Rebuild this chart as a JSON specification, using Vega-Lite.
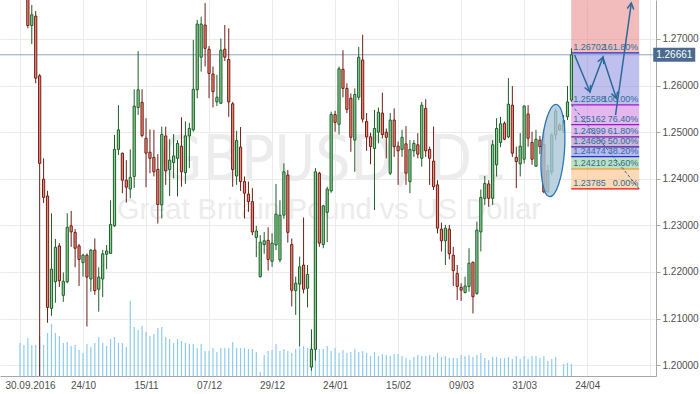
{
"$schema": "https://vega.github.io/schema/vega-lite/v6.json",
"width": 656, "height": 376,
"autosize": {"type": "none"},
"padding": {"left": 0, "top": 0, "right": 44, "bottom": 18},
"background": "white",
"config": {
  "view": {"stroke": null},
  "axis": {"gridColor": "#ebebeb", "gridWidth": 1, "domainColor": "#a6a6a6", "tickColor": "#a6a6a6", "labelColor": "#4f4f4f", "labelFont": "Liberation Sans", "labelFontSize": 10, "title": null}
},
"datasets": {
  "candles": [
{"i":0,"o":1.2960,"h":1.3010,"l":1.2925,"c":1.2975,"v":33},
{"i":1,"o":1.2965,"h":1.2975,"l":1.2870,"c":1.2880,"v":31},
{"i":2,"o":1.2870,"h":1.2880,"l":1.2723,"c":1.2729,"v":38},
{"i":3,"o":1.2729,"h":1.2773,"l":1.2689,"c":1.2752,"v":31},
{"i":4,"o":1.2749,"h":1.2760,"l":1.2605,"c":1.2616,"v":31},
{"i":5,"o":1.2621,"h":1.2625,"l":1.1841,"c":1.2433,"v":40},
{"i":6,"o":1.2399,"h":1.2444,"l":1.2348,"c":1.2360,"v":31},
{"i":7,"o":1.2363,"h":1.2374,"l":1.2091,"c":1.2124,"v":43},
{"i":8,"o":1.2122,"h":1.2326,"l":1.2106,"c":1.2206,"v":52},
{"i":9,"o":1.2179,"h":1.2271,"l":1.2134,"c":1.2253,"v":43},
{"i":10,"o":1.2256,"h":1.2262,"l":1.2168,"c":1.2181,"v":40},
{"i":11,"o":1.2150,"h":1.2199,"l":1.2136,"c":1.2180,"v":33},
{"i":12,"o":1.2179,"h":1.2326,"l":1.2176,"c":1.2296,"v":34},
{"i":13,"o":1.2299,"h":1.2331,"l":1.2254,"c":1.2286,"v":30},
{"i":14,"o":1.2285,"h":1.2292,"l":1.2210,"c":1.2251,"v":31},
{"i":15,"o":1.2256,"h":1.2260,"l":1.2170,"c":1.2227,"v":26},
{"i":16,"o":1.2220,"h":1.2239,"l":1.2190,"c":1.2236,"v":23},
{"i":17,"o":1.2236,"h":1.2240,"l":1.2083,"c":1.2189,"v":32},
{"i":18,"o":1.2185,"h":1.2249,"l":1.2158,"c":1.2247,"v":29},
{"i":19,"o":1.2247,"h":1.2272,"l":1.2151,"c":1.2160,"v":33},
{"i":20,"o":1.2163,"h":1.2210,"l":1.2115,"c":1.2189,"v":39},
{"i":21,"o":1.2185,"h":1.2247,"l":1.2146,"c":1.2239,"v":33},
{"i":22,"o":1.2238,"h":1.2258,"l":1.2206,"c":1.2245,"v":30},
{"i":23,"o":1.2240,"h":1.2354,"l":1.2239,"c":1.2302,"v":37},
{"i":24,"o":1.2299,"h":1.2494,"l":1.2297,"c":1.2463,"v":39},
{"i":25,"o":1.2463,"h":1.2558,"l":1.2451,"c":1.2505,"v":33},
{"i":26,"o":1.2455,"h":1.2456,"l":1.2369,"c":1.2397,"v":33},
{"i":27,"o":1.2397,"h":1.2440,"l":1.2349,"c":1.2382,"v":29},
{"i":28,"o":1.2378,"h":1.2463,"l":1.2358,"c":1.2403,"v":75},
{"i":29,"o":1.2405,"h":1.2592,"l":1.2380,"c":1.2556,"v":49},
{"i":30,"o":1.2553,"h":1.2674,"l":1.2537,"c":1.2591,"v":46},
{"i":31,"o":1.2564,"h":1.2592,"l":1.2489,"c":1.2493,"v":50},
{"i":32,"o":1.2487,"h":1.2530,"l":1.2382,"c":1.2455,"v":44},
{"i":33,"o":1.2457,"h":1.2506,"l":1.2412,"c":1.2444,"v":40},
{"i":34,"o":1.2446,"h":1.2505,"l":1.2405,"c":1.2415,"v":42},
{"i":35,"o":1.2420,"h":1.2453,"l":1.2304,"c":1.2345,"v":48},
{"i":36,"o":1.2344,"h":1.2512,"l":1.2315,"c":1.2495,"v":49},
{"i":37,"o":1.2492,"h":1.2512,"l":1.2387,"c":1.2417,"v":39},
{"i":38,"o":1.2420,"h":1.2485,"l":1.2363,"c":1.2440,"v":37},
{"i":39,"o":1.2435,"h":1.2496,"l":1.2401,"c":1.2449,"v":33},
{"i":40,"o":1.2444,"h":1.2483,"l":1.2362,"c":1.2476,"v":37},
{"i":41,"o":1.2470,"h":1.2532,"l":1.2383,"c":1.2415,"v":35},
{"i":42,"o":1.2413,"h":1.2523,"l":1.2389,"c":1.2492,"v":33},
{"i":43,"o":1.2492,"h":1.2520,"l":1.2423,"c":1.2508,"v":32},
{"i":44,"o":1.2505,"h":1.2698,"l":1.2501,"c":1.2592,"v":32},
{"i":45,"o":1.2591,"h":1.2741,"l":1.2573,"c":1.2732,"v":28},
{"i":46,"o":1.2661,"h":1.2748,"l":1.2630,"c":1.2732,"v":32},
{"i":47,"o":1.2730,"h":1.2777,"l":1.2641,"c":1.2680,"v":25},
{"i":48,"o":1.2678,"h":1.2685,"l":1.2573,"c":1.2626,"v":25},
{"i":49,"o":1.2625,"h":1.2641,"l":1.2553,"c":1.2587,"v":28},
{"i":50,"o":1.2565,"h":1.2623,"l":1.2556,"c":1.2575,"v":24},
{"i":51,"o":1.2562,"h":1.2701,"l":1.2561,"c":1.2676,"v":28},
{"i":52,"o":1.2678,"h":1.2730,"l":1.2653,"c":1.2661,"v":28},
{"i":53,"o":1.2656,"h":1.2723,"l":1.2533,"c":1.2565,"v":28},
{"i":54,"o":1.2561,"h":1.2565,"l":1.2383,"c":1.2420,"v":34},
{"i":55,"o":1.2406,"h":1.2503,"l":1.2387,"c":1.2482,"v":28},
{"i":56,"o":1.2468,"h":1.2511,"l":1.2374,"c":1.2394,"v":28},
{"i":57,"o":1.2394,"h":1.2405,"l":1.2315,"c":1.2369,"v":28},
{"i":58,"o":1.2367,"h":1.2394,"l":1.2329,"c":1.2351,"v":27},
{"i":59,"o":1.2351,"h":1.2380,"l":1.2279,"c":1.2286,"v":27},
{"i":60,"o":1.2274,"h":1.2299,"l":1.2232,"c":1.2288,"v":24},
{"i":61,"o":1.2190,"h":1.2279,"l":1.2188,"c":1.2264,"v":4},
{"i":62,"o":1.2259,"h":1.2286,"l":1.2239,"c":1.2267,"v":21},
{"i":63,"o":1.2268,"h":1.2296,"l":1.2203,"c":1.2227,"v":25},
{"i":64,"o":1.2223,"h":1.2283,"l":1.2211,"c":1.2262,"v":26},
{"i":65,"o":1.2258,"h":1.2389,"l":1.2247,"c":1.2324,"v":32},
{"i":66,"o":1.2226,"h":1.2354,"l":1.2221,"c":1.2322,"v":25},
{"i":67,"o":1.2322,"h":1.2433,"l":1.2314,"c":1.2415,"v":27},
{"i":68,"o":1.2408,"h":1.2419,"l":1.2263,"c":1.2285,"v":25},
{"i":69,"o":1.2259,"h":1.2272,"l":1.2126,"c":1.2161,"v":23},
{"i":70,"o":1.2160,"h":1.2190,"l":1.2108,"c":1.2176,"v":27},
{"i":71,"o":1.2174,"h":1.2233,"l":1.2040,"c":1.2211,"v":28},
{"i":72,"o":1.2215,"h":1.2317,"l":1.2154,"c":1.2163,"v":30},
{"i":73,"o":1.2165,"h":1.2215,"l":1.2124,"c":1.2195,"v":28},
{"i":74,"o":1.1996,"h":1.2077,"l":1.1988,"c":1.2034,"v":32},
{"i":75,"o":1.2034,"h":1.2423,"l":1.2010,"c":1.2415,"v":36},
{"i":76,"o":1.2412,"h":1.2415,"l":1.2254,"c":1.2262,"v":27},
{"i":77,"o":1.2259,"h":1.2344,"l":1.2251,"c":1.2342,"v":27},
{"i":78,"o":1.2328,"h":1.2383,"l":1.2264,"c":1.2378,"v":30},
{"i":79,"o":1.2374,"h":1.2544,"l":1.2370,"c":1.2538,"v":25},
{"i":80,"o":1.2538,"h":1.2546,"l":1.2501,"c":1.2521,"v":28},
{"i":81,"o":1.2517,"h":1.2641,"l":1.2495,"c":1.2636,"v":23},
{"i":82,"o":1.2635,"h":1.2676,"l":1.2575,"c":1.2594,"v":26},
{"i":83,"o":1.2594,"h":1.2605,"l":1.2541,"c":1.2549,"v":23},
{"i":84,"o":1.2573,"h":1.2583,"l":1.2458,"c":1.2489,"v":24},
{"i":85,"o":1.2483,"h":1.2594,"l":1.2415,"c":1.2581,"v":27},
{"i":86,"o":1.2575,"h":1.2683,"l":1.2569,"c":1.2661,"v":24},
{"i":87,"o":1.2655,"h":1.2709,"l":1.2521,"c":1.2528,"v":25},
{"i":88,"o":1.2523,"h":1.2541,"l":1.2460,"c":1.2490,"v":23},
{"i":89,"o":1.2490,"h":1.2499,"l":1.2431,"c":1.2469,"v":20},
{"i":90,"o":1.2465,"h":1.2548,"l":1.2333,"c":1.2508,"v":24},
{"i":91,"o":1.2500,"h":1.2553,"l":1.2476,"c":1.2543,"v":20},
{"i":92,"o":1.2541,"h":1.2585,"l":1.2487,"c":1.2495,"v":22},
{"i":93,"o":1.2500,"h":1.2508,"l":1.2444,"c":1.2489,"v":21},
{"i":94,"o":1.2412,"h":1.2541,"l":1.2408,"c":1.2526,"v":20},
{"i":95,"o":1.2526,"h":1.2551,"l":1.2447,"c":1.2469,"v":22},
{"i":96,"o":1.2470,"h":1.2480,"l":1.2387,"c":1.2460,"v":22},
{"i":97,"o":1.2463,"h":1.2505,"l":1.2447,"c":1.2489,"v":20},
{"i":98,"o":1.2475,"h":1.2513,"l":1.2387,"c":1.2412,"v":18},
{"i":99,"o":1.2394,"h":1.2483,"l":1.2369,"c":1.2463,"v":16},
{"i":100,"o":1.2460,"h":1.2483,"l":1.2447,"c":1.2476,"v":19},
{"i":101,"o":1.2473,"h":1.2498,"l":1.2444,"c":1.2453,"v":21},
{"i":102,"o":1.2444,"h":1.2565,"l":1.2426,"c":1.2558,"v":20},
{"i":103,"o":1.2551,"h":1.2571,"l":1.2447,"c":1.2460,"v":20},
{"i":104,"o":1.2463,"h":1.2469,"l":1.2387,"c":1.2444,"v":21},
{"i":105,"o":1.2438,"h":1.2512,"l":1.2376,"c":1.2383,"v":19},
{"i":106,"o":1.2387,"h":1.2397,"l":1.2283,"c":1.2294,"v":23},
{"i":107,"o":1.2292,"h":1.2306,"l":1.2244,"c":1.2267,"v":19},
{"i":108,"o":1.2267,"h":1.2301,"l":1.2215,"c":1.2294,"v":20},
{"i":109,"o":1.2292,"h":1.2301,"l":1.2227,"c":1.2239,"v":18},
{"i":110,"o":1.2236,"h":1.2254,"l":1.2170,"c":1.2203,"v":18},
{"i":111,"o":1.2197,"h":1.2215,"l":1.2140,"c":1.2169,"v":18},
{"i":112,"o":1.2167,"h":1.2176,"l":1.2138,"c":1.2161,"v":21},
{"i":113,"o":1.2156,"h":1.2190,"l":1.2154,"c":1.2170,"v":20},
{"i":114,"o":1.2169,"h":1.2251,"l":1.2158,"c":1.2219,"v":21},
{"i":115,"o":1.2221,"h":1.2222,"l":1.2111,"c":1.2147,"v":19},
{"i":116,"o":1.2154,"h":1.2308,"l":1.2151,"c":1.2290,"v":21},
{"i":117,"o":1.2286,"h":1.2377,"l":1.2244,"c":1.2360,"v":23},
{"i":118,"o":1.2358,"h":1.2406,"l":1.2344,"c":1.2390,"v":18},
{"i":119,"o":1.2389,"h":1.2397,"l":1.2340,"c":1.2358,"v":16},
{"i":120,"o":1.2358,"h":1.2483,"l":1.2344,"c":1.2473,"v":19},
{"i":121,"o":1.2430,"h":1.2530,"l":1.2405,"c":1.2508,"v":19},
{"i":122,"o":1.2478,"h":1.2533,"l":1.2468,"c":1.2518,"v":18},
{"i":123,"o":1.2519,"h":1.2523,"l":1.2483,"c":1.2485,"v":18},
{"i":124,"o":1.2490,"h":1.2616,"l":1.2487,"c":1.2560,"v":19},
{"i":125,"o":1.2558,"h":1.2599,"l":1.2447,"c":1.2455,"v":17},
{"i":126,"o":1.2446,"h":1.2469,"l":1.2380,"c":1.2437,"v":20},
{"i":127,"o":1.2432,"h":1.2498,"l":1.2405,"c":1.2470,"v":17},
{"i":128,"o":1.2442,"h":1.2558,"l":1.2433,"c":1.2556,"v":20},
{"i":129,"o":1.2539,"h":1.2558,"l":1.2469,"c":1.2487,"v":17},
{"i":130,"o":1.2478,"h":1.2501,"l":1.2430,"c":1.2442,"v":20},
{"i":131,"o":1.2427,"h":1.2505,"l":1.2426,"c":1.2485,"v":20},
{"i":132,"o":1.2483,"h":1.2492,"l":1.2453,"c":1.2469,"v":18},
{"i":133,"o":1.2473,"h":1.2505,"l":1.2369,"c":1.2372,"v":20},
{"i":134,"o":1.2372,"h":1.2430,"l":1.2369,"c":1.2417,"v":15},
{"i":135,"o":1.2415,"h":1.2498,"l":1.2408,"c":1.2494,"v":17},
{"i":136,"o":1.2494,"h":1.2551,"l":1.2483,"c":1.2545,"v":19},
{"i":137,"o":1.2515,"h":1.2519,"l":1.2503,"c":1.2505,"v":0},
{"i":138,"o":1.2503,"h":1.2537,"l":1.2498,"c":1.2525,"v":12},
{"i":139,"o":1.2533,"h":1.2599,"l":1.2526,"c":1.2565,"v":13},
{"i":140,"o":1.2569,"h":1.2680,"l":1.2565,"c":1.26661,"v":12}
  ],
  "fib": [
    {"pct": "161.80%", "price": 1.26702, "top": 1.30},
    {"pct": "100.00%", "price": 1.25588, "top": 1.26702},
    {"pct": "76.40%", "price": 1.25162, "top": 1.25588},
    {"pct": "61.80%", "price": 1.24899, "top": 1.25162},
    {"pct": "50.00%", "price": 1.24686, "top": 1.24899},
    {"pct": "38.20%", "price": 1.24474, "top": 1.24686},
    {"pct": "23.60%", "price": 1.24210, "top": 1.24474},
    {"pct": "0.00%", "price": 1.23785, "top": 1.24210}
  ],
  "last": [{"price": 1.26661}]
},
"resolve": {"scale": {"y": "independent"}, "axis": {"y": "independent"}},
"layer": [
  {
    "layer": [
      {
        "data": {"values": [{"i": 79.6, "price": 1.23974, "label": "GBPUSD, D1"}]},
        "mark": {"type": "text", "align": "center", "baseline": "alphabetic", "fontSize": 62, "font": "Liberation Sans Narrow, DejaVu Sans Condensed, Liberation Sans", "color": "#ececec"},
        "encoding": {
          "x": {"field": "i", "type": "quantitative", "scale": {"domain": [-3.8, 160.2], "nice": false, "zero": false}},
          "y": {"field": "price", "type": "quantitative", "scale": {"domain": [1.197682, 1.278369], "nice": false, "zero": false}, "axis": null},
          "text": {"field": "label"}
        }
      },
      {
        "data": {"values": [{"i": 78.45, "price": 1.23131, "label": "Great Britain Pound vs US Dollar"}]},
        "mark": {"type": "text", "align": "center", "baseline": "alphabetic", "fontSize": 29, "font": "Liberation Sans", "color": "#ececec"},
        "encoding": {
          "x": {"field": "i", "type": "quantitative"},
          "y": {"field": "price", "type": "quantitative", "axis": null},
          "text": {"field": "label"}
        }
      }
    ]
  },
  {
    "data": {"name": "candles"},
    "mark": {"type": "rule", "color": "#8ecbee", "strokeWidth": 1.2},
    "encoding": {
      "x": {"field": "i", "type": "quantitative"},
      "y": {"field": "v", "type": "quantitative", "scale": {"domain": [0, 376], "nice": false}, "axis": null},
      "y2": {"datum": 0}
    }
  },
  {
    "layer": [
      {
        "data": {"name": "fib"},
        "mark": {"type": "rect", "fillOpacity": 0.5, "clip": true},
        "encoding": {
          "x": {"datum": 139.95},
          "x2": {"datum": 157.2},
          "y": {"field": "price", "type": "quantitative"},
          "y2": {"field": "top"},
          "fill": {"field": "pct", "type": "nominal", "legend": null, "scale": {"domain": ["161.80%","100.00%","76.40%","61.80%","50.00%","38.20%","23.60%","0.00%"], "range": ["#e57979","#8181dd","#c971dd","#b979d1","#9971b9","#7171e9","#7bc17b","#fbb36b"]}}
        }
      },
      {
        "data": {"name": "last"},
        "mark": {"type": "rule", "color": "#8ba5c2", "strokeWidth": 1},
        "encoding": {"y": {"field": "price", "type": "quantitative"}}
      },
      {
        "data": {"name": "candles"},
        "mark": {"type": "rule", "strokeWidth": 1, "clip": true},
        "encoding": {
          "x": {"field": "i", "type": "quantitative", "scale": {"domain": [-3.8, 160.2], "nice": false, "zero": false},
            "axis": {"values": [0,8,16,24,32,40,48,56,64,72,80,88,96,104,112,120,128,136,144,152,160],
              "labelExpr": "['30.09.2016','','24/10','','15/11','','07/12','','29/12','','24/01','','15/02','','09/03','','31/03','','24/04','',''][round(datum.value/8)]",
              "grid": true, "ticks": false, "labelFlush": false, "labelOverlap": false, "labelPadding": 4, "labelFontSize": 10,
              "labelAlign": {"condition": {"test": "datum.value == 0", "value": "left"}, "value": "center"},
              "labelOffset": {"condition": {"test": "datum.value == 0", "value": -15}, "value": 0}}},
          "y": {"field": "l", "type": "quantitative", "scale": {"domain": [1.197682, 1.278369], "nice": false, "zero": false},
            "axis": {"orient": "right", "values": [1.2,1.21,1.22,1.23,1.24,1.25,1.26,1.27], "format": ".5f", "grid": true, "tickSize": 4, "labelPadding": 2}},
          "y2": {"field": "h"},
          "color": {"condition": {"test": "datum.c >= datum.o", "value": "#1f5e28"}, "value": "#6e1e16"}
        }
      },
      {
        "data": {"name": "candles"},
        "mark": {"type": "bar", "width": 2.2, "strokeWidth": 1, "clip": true},
        "encoding": {
          "x": {"field": "i", "type": "quantitative"},
          "y": {"field": "o", "type": "quantitative"},
          "y2": {"field": "c"},
          "fill": {"condition": {"test": "datum.c >= datum.o", "value": "#88d394"}, "value": "#f08a76"},
          "stroke": {"condition": {"test": "datum.c >= datum.o", "value": "#1f5e28"}, "value": "#6e1e16"}
        }
      },
      {
        "data": {"values": [{"i": 135.3, "price": 1.24607}]},
        "mark": {"type": "point", "filled": true, "shape": "M0.25,0 C0.25,0.5523 0.1381,1 0,1 C-0.1381,1 -0.25,0.5523 -0.25,0 C-0.25,-0.5523 -0.1381,-1 0,-1 C0.1381,-1 0.25,-0.5523 0.25,0 Z", "size": 8575, "angle": 4, "fill": "#a9c5d9", "fillOpacity": 0.78, "stroke": "#2b78b0", "strokeWidth": 1.3, "opacity": 1},
        "encoding": {
          "x": {"field": "i", "type": "quantitative"},
          "y": {"field": "price", "type": "quantitative"}
        }
      },
      {
        "data": {"name": "fib"},
        "mark": {"type": "rule", "strokeWidth": 1.2},
        "encoding": {
          "x": {"datum": 139.95},
          "x2": {"datum": 157.2},
          "y": {"field": "price", "type": "quantitative"},
          "stroke": {"field": "pct", "type": "nominal", "legend": null, "scale": {"domain": ["161.80%","100.00%","76.40%","61.80%","50.00%","38.20%","23.60%","0.00%"], "range": ["#2b2bd0","#9b19c9","#9b19c9","#7a1aa8","#4a1a8c","#2a2ae6","#f28c1e","#ee1111"]}}
        }
      },
      {
        "data": {"name": "fib"},
        "mark": {"type": "text", "align": "left", "baseline": "alphabetic", "dy": -3, "fontSize": 9, "font": "Liberation Sans", "color": "#2d6f9b"},
        "encoding": {
          "x": {"datum": 140.45},
          "y": {"field": "price", "type": "quantitative"},
          "text": {"field": "price", "type": "quantitative", "format": ".5f"}
        }
      },
      {
        "data": {"name": "fib"},
        "mark": {"type": "text", "align": "right", "baseline": "alphabetic", "dy": -3, "fontSize": 9, "font": "Liberation Sans", "color": "#2d6f9b"},
        "encoding": {
          "x": {"datum": 156.95},
          "y": {"field": "price", "type": "quantitative"},
          "text": {"field": "pct"}
        }
      },
      {
        "data": {"values": [{"i": 140, "price": 1.25588}, {"i": 157.2, "price": 1.23785}]},
        "mark": {"type": "line", "color": "#2a6a98", "strokeWidth": 1, "strokeDash": [3, 2]},
        "encoding": {
          "x": {"field": "i", "type": "quantitative"},
          "y": {"field": "price", "type": "quantitative"}
        }
      },
      {
        "data": {"values": [{"step": 1, "i": 140.8, "price": 1.26657}, {"step": 2, "i": 144.7, "price": 1.25869}, {"step": 3, "i": 148.0, "price": 1.26607}, {"step": 4, "i": 151.4, "price": 1.25727}]},
        "mark": {"type": "line", "color": "#2a6a98", "strokeWidth": 1.5},
        "encoding": {
          "x": {"field": "i", "type": "quantitative"},
          "y": {"field": "price", "type": "quantitative"},
          "order": {"field": "step"}
        }
      },
      {
        "data": {"values": [{"step": 1, "i": 151.2, "price": 1.25369}, {"step": 2, "i": 155.2, "price": 1.27772}]},
        "mark": {"type": "line", "color": "#2a6a98", "strokeWidth": 1.5, "clip": true},
        "encoding": {
          "x": {"field": "i", "type": "quantitative"},
          "y": {"field": "price", "type": "quantitative"},
          "order": {"field": "step"}
        }
      },
      {
        "data": {"values": [{"i": 144.7, "price": 1.25869}]},
        "mark": {"type": "point", "filled": false, "shape": "M-0.55,1 L0,0 L0.55,1", "size": 144, "angle": 157, "stroke": "#2a6a98", "strokeWidth": 1.5, "opacity": 1},
        "encoding": {"x": {"field": "i", "type": "quantitative"}, "y": {"field": "price", "type": "quantitative"}}
      },
      {
        "data": {"values": [{"i": 148.0, "price": 1.26607}]},
        "mark": {"type": "point", "filled": false, "shape": "M-0.55,1 L0,0 L0.55,1", "size": 144, "angle": 21, "stroke": "#2a6a98", "strokeWidth": 1.5, "opacity": 1},
        "encoding": {"x": {"field": "i", "type": "quantitative"}, "y": {"field": "price", "type": "quantitative"}}
      },
      {
        "data": {"values": [{"i": 151.4, "price": 1.25727}]},
        "mark": {"type": "point", "filled": false, "shape": "M-0.55,1 L0,0 L0.55,1", "size": 144, "angle": 162, "stroke": "#2a6a98", "strokeWidth": 1.5, "opacity": 1},
        "encoding": {"x": {"field": "i", "type": "quantitative"}, "y": {"field": "price", "type": "quantitative"}}
      },
      {
        "data": {"values": [{"i": 155.2, "price": 1.27772}]},
        "mark": {"type": "point", "filled": false, "shape": "M-0.55,1 L0,0 L0.55,1", "size": 144, "angle": 8, "stroke": "#2a6a98", "strokeWidth": 1.5, "opacity": 1},
        "encoding": {"x": {"field": "i", "type": "quantitative"}, "y": {"field": "price", "type": "quantitative"}}
      },
      {
        "data": {"name": "last"},
        "mark": {"type": "point", "filled": true, "shape": "M-0.955,-0.318H0.955V0.318H-0.955Z", "size": 1936, "fill": "#4a6b8f", "opacity": 1, "strokeWidth": 0},
        "encoding": {"x": {"datum": 166.1}, "y": {"field": "price", "type": "quantitative"}}
      },
      {
        "data": {"name": "last"},
        "mark": {"type": "text", "align": "center", "baseline": "middle", "fontSize": 10, "font": "Liberation Sans", "color": "#ffffff"},
        "encoding": {"x": {"datum": 166.1}, "y": {"field": "price", "type": "quantitative"}, "text": {"field": "price", "type": "quantitative", "format": ".5f"}}
      }
    ]
  }
]
}
